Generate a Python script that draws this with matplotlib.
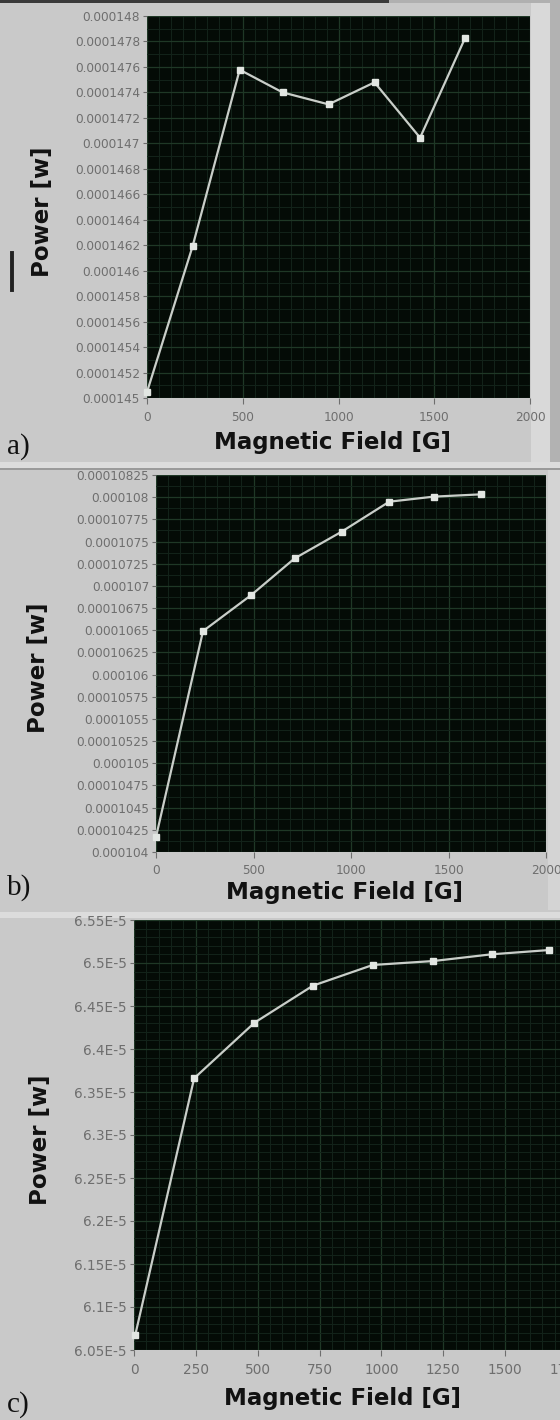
import matplotlib
matplotlib.use("Agg")
import matplotlib.pyplot as plt
from matplotlib.ticker import FuncFormatter, MultipleLocator, AutoMinorLocator
from matplotlib.patches import Rectangle
from matplotlib.lines import Line2D

# ---------------- data ----------------
field_a = [0, 238, 484, 708, 948, 1188, 1426, 1662]
power_a = [1.45047e-4, 1.46191e-4, 1.47578e-4, 1.47400e-4, 1.47306e-4,
           1.47479e-4, 1.47044e-4, 1.47830e-4]

field_b = [0, 241, 488, 711, 952, 1196, 1424, 1667]
power_b = [1.04169e-4, 1.06490e-4, 1.06896e-4, 1.07310e-4, 1.07611e-4,
           1.07949e-4, 1.08006e-4, 1.08032e-4]

field_c = [5, 243, 487, 723, 965, 1210, 1445, 1679]
power_c = [6.0674e-5, 6.3659e-5, 6.4306e-5, 6.4736e-5, 6.4977e-5,
           6.5023e-5, 6.5101e-5, 6.5151e-5]

xlim_ab = (0, 2000)
xlim_c = (0, 1750)
ylim_a = (0.000145, 0.000148)
ylim_b = (0.000104, 0.00010825)
ylim_c = (6.05e-5, 6.55e-5)
ystep_a = 0.0000002
ystep_b = 0.00000025
ystep_c = 0.0000005
xstep_ab = 500
xstep_c = 250

panel_letters = ["a)", "b)", "c)"]
xlabel = "Magnetic Field [G]"
ylabel = "Power [w]"

# ---------------- style ----------------
BG = "#c9c9c9"
PLOT_BG = "#040b06"
GRID_MAJ = "#1f3826"
GRID_MIN = "#13231a"
LINE = "#c9cec9"
TICKC = "#6e6e6e"

W, H = 560, 1420
fig = plt.figure(figsize=(W / 100, H / 100), dpi=100, facecolor=BG)


def fig_rect(x0, y0, x1, y1, color):
    fig.patches.append(Rectangle((x0 / W, 1 - y1 / H), (x1 - x0) / W, (y1 - y0) / H,
                                 transform=fig.transFigure, color=color, lw=0,
                                 zorder=-5))


# panel frame decorations (bevel strips of the screenshot)
fig_rect(0, 0, 389, 3, "#3a3a3a")
fig_rect(389, 0, 560, 3, "#b0b0b0")
fig_rect(531, 3, 550, 462, "#d9d9d9")
fig_rect(550, 0, 560, 462, "#b2b2b2")
fig_rect(0, 462, 560, 468, "#dcdcdc")
fig_rect(0, 468, 560, 470, "#9a9a9a")
fig_rect(548, 470, 560, 910, "#d4d4d4")
fig_rect(0, 912, 560, 918, "#dcdcdc")
fig.lines.append(Line2D([12 / W, 12 / W], [1 - 253 / H, 1 - 290 / H],
                        transform=fig.transFigure, color="#222222", lw=2.8))


def px_axes(left, top, right, bottom):
    return fig.add_axes([left / W, 1 - bottom / H, (right - left) / W, (bottom - top) / H])


def style(ax, x, y, xlim, ylim, ystep, xstep, fmt, xminor, yminor, lsize):
    ax.set_facecolor(PLOT_BG)
    ax.plot(x, y, color=LINE, lw=1.6, marker="s", ms=4.5, mfc="#e2e6e2",
            mec="#e2e6e2", zorder=3, clip_on=False)
    ax.set_xlim(*xlim)
    ax.set_ylim(*ylim)
    ax.xaxis.set_major_locator(MultipleLocator(xstep))
    ax.yaxis.set_major_locator(MultipleLocator(ystep))
    ax.xaxis.set_minor_locator(AutoMinorLocator(xminor))
    ax.yaxis.set_minor_locator(AutoMinorLocator(yminor))
    ax.yaxis.set_major_formatter(FuncFormatter(fmt))
    ax.grid(True, which="major", color=GRID_MAJ, lw=0.9)
    ax.grid(True, which="minor", color=GRID_MIN, lw=0.7)
    ax.set_axisbelow(True)
    ax.tick_params(which="major", direction="out", length=3, width=0.8,
                   color=TICKC, labelcolor=TICKC, labelsize=lsize, pad=2)
    ax.tick_params(axis="x", which="major", length=4, pad=5)
    ax.tick_params(which="minor", length=0)
    for s in ax.spines.values():
        s.set_visible(False)


def fmt_a(v, pos):
    return f"{v:.7f}".rstrip("0")


def fmt_b(v, pos):
    return f"{v:.8f}".rstrip("0")


def fmt_c(v, pos):
    return f"{v * 1e5:.2f}".rstrip("0").rstrip(".") + "E-5"


lab_kw = dict(fontsize=16.5, fontweight="bold", color="#111111",
              family="DejaVu Sans")
let_kw = dict(fontsize=21, color="#111111", family="Liberation Serif")

# panel a
ax_a = px_axes(147, 16, 530, 398)
style(ax_a, field_a, power_a, xlim_ab, ylim_a, ystep_a, xstep_ab, fmt_a, 8, 2, 8.7)
fig.text(333 / W, 1 - 443 / H, xlabel, ha="center", va="center", **lab_kw)
fig.text(43 / W, 1 - 212 / H, ylabel, ha="center", va="center", rotation=90, **lab_kw)
fig.text(7 / W, 1 - 447 / H, panel_letters[0], ha="left", va="center", **let_kw)

# panel b
ax_b = px_axes(156, 475, 546, 852)
style(ax_b, field_b, power_b, xlim_ab, ylim_b, ystep_b, xstep_ab, fmt_b, 8, 2, 8.7)
fig.text(345 / W, 1 - 892 / H, xlabel, ha="center", va="center", **lab_kw)
fig.text(39 / W, 1 - 668 / H, ylabel, ha="center", va="center", rotation=90, **lab_kw)
fig.text(7 / W, 1 - 888 / H, panel_letters[1], ha="left", va="center", **let_kw)

# panel c
ax_c = px_axes(134, 920, 567, 1350)
style(ax_c, field_c, power_c, xlim_c, ylim_c, ystep_c, xstep_c, fmt_c, 5, 5, 9.8)
fig.text(343 / W, 1 - 1398 / H, xlabel, ha="center", va="center", **lab_kw)
fig.text(40 / W, 1 - 1140 / H, ylabel, ha="center", va="center", rotation=90, **lab_kw)
fig.text(7 / W, 1 - 1405 / H, panel_letters[2], ha="left", va="center", **let_kw)

fig.savefig("out.png", dpi=100, facecolor=BG)
